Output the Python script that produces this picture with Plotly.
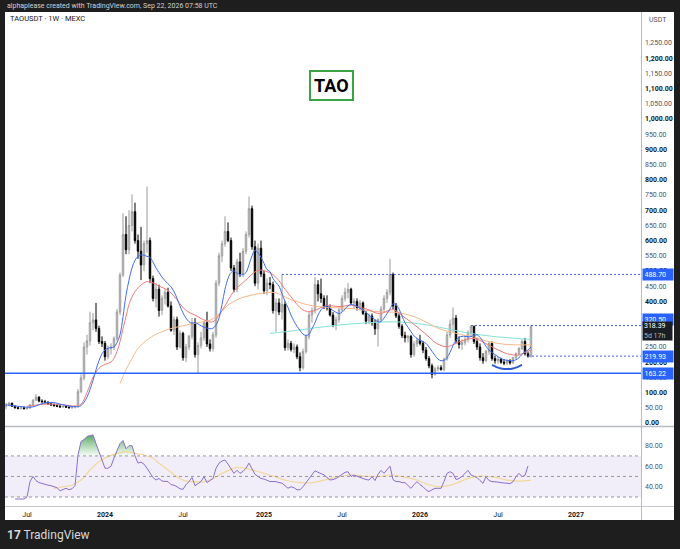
import pandas as pd
import numpy as np
import plotly.graph_objects as go

# ---------------- DATA ----------------
BASE = pd.Timestamp("2024-01-01")   # weekly bars, week index 0 = week of 2024-01-01
FIRST_WEEK = -33

opens = [55, 60, 65, 55, 50, 48, 50, 47, 49, 60,
         75, 85, 72, 70, 68, 63, 60, 57, 55, 53,
         55, 52, 50, 52, 54, 103, 148, 250, 270, 330,
         339, 311, 268, 262, 218, 245, 250, 278, 365, 487,
         620, 570, 650, 695, 600, 565, 520, 590, 600, 475,
         410, 440, 370, 410, 430, 385, 305, 340, 250, 295,
         215, 250, 285, 330, 225, 255, 280, 330, 260, 245,
         290, 460, 550, 590, 630, 600, 510, 440, 530, 490,
         565, 620, 705, 580, 460, 575, 490, 435, 460, 455,
         370, 395, 365, 390, 248, 262, 242, 250, 218, 182,
         235, 285, 355, 370, 455, 425, 410, 385, 378, 355,
         322, 340, 372, 410, 430, 440, 395, 400, 380, 395,
         360, 335, 352, 330, 310, 340, 375, 410, 430, 488,
         385, 352, 318, 288, 280, 285, 225, 260, 272, 262,
         240, 212, 188, 160, 178, 182, 176, 210, 290, 325,
         345, 270, 258, 265, 275, 298, 318, 268, 250, 215,
         205, 235, 262, 212, 205, 210, 200, 197, 205, 198,
         215, 228, 245, 268, 228, 219.93]
highs = [66, 70, 67, 58, 55, 53, 54, 52, 62, 78,
         95, 88, 78, 76, 72, 67, 64, 62, 60, 58,
         58, 56, 55, 56, 112, 160, 265, 290, 366, 362,
         395, 320, 285, 270, 255, 262, 285, 375, 495, 690,
         680, 700, 752, 725, 620, 645, 600, 778, 610, 485,
         460, 455, 420, 440, 445, 400, 350, 350, 305, 300,
         260, 290, 345, 345, 265, 300, 335, 366, 275, 300,
         470, 560, 600, 680, 660, 610, 520, 540, 560, 575,
         630, 745, 715, 600, 590, 600, 500, 475, 480, 465,
         410, 410, 489, 400, 275, 270, 262, 258, 232, 245,
         290, 365, 380, 480, 470, 475, 420, 420, 390, 365,
         350, 380, 420, 445, 460, 445, 410, 410, 405, 400,
         368, 360, 360, 340, 345, 385, 420, 440, 540, 495,
         395, 360, 325, 300, 290, 290, 270, 280, 290, 270,
         250, 220, 195, 185, 190, 190, 215, 300, 340, 380,
         355, 285, 275, 285, 305, 320.5, 320, 280, 262, 230,
         240, 270, 268, 222, 218, 215, 210, 210, 210, 218,
         232, 250, 275, 280, 235, 320.5]
lows = [45, 56, 53, 47, 45, 44, 45, 44, 47, 58,
        72, 68, 66, 64, 60, 56, 54, 52, 50, 49,
        50, 48, 47, 48, 52, 98, 140, 225, 255, 305,
        300, 260, 250, 205, 210, 225, 240, 270, 355, 480,
        555, 555, 630, 590, 540, 470, 500, 560, 460, 400,
        380, 350, 355, 390, 380, 300, 290, 240, 245, 205,
        200, 240, 275, 215, 163, 245, 270, 250, 235, 235,
        280, 450, 530, 580, 595, 500, 430, 430, 480, 480,
        555, 610, 570, 450, 440, 480, 425, 420, 440, 360,
        300, 355, 340, 238, 238, 235, 230, 210, 170, 175,
        228, 275, 330, 360, 400, 395, 375, 370, 350, 315,
        305, 330, 365, 400, 410, 390, 375, 370, 370, 355,
        325, 325, 320, 290, 252, 330, 365, 395, 420, 375,
        345, 310, 280, 265, 265, 215, 218, 250, 255, 230,
        205, 180, 147, 155, 170, 172, 170, 205, 280, 300,
        262, 245, 240, 255, 265, 285, 260, 240, 205, 195,
        200, 225, 205, 195, 195, 195, 190, 190, 192, 195,
        210, 222, 240, 222, 215, 215]
closes = [60, 65, 55, 50, 48, 50, 47, 49, 60, 75,
          85, 72, 70, 68, 63, 60, 57, 55, 53, 55,
          52, 50, 52, 54, 103, 148, 250, 270, 330, 339,
          311, 268, 262, 218, 245, 250, 278, 365, 487, 620,
          570, 650, 695, 600, 565, 520, 590, 600, 475, 410,
          440, 370, 410, 430, 385, 305, 340, 250, 295, 215,
          250, 285, 330, 225, 255, 280, 330, 260, 245, 290,
          460, 550, 590, 630, 600, 510, 440, 530, 490, 565,
          620, 705, 580, 460, 575, 490, 435, 460, 455, 370,
          395, 365, 390, 248, 262, 242, 250, 218, 182, 235,
          285, 355, 370, 455, 425, 410, 385, 378, 355, 322,
          340, 372, 410, 430, 440, 395, 400, 380, 395, 360,
          335, 352, 330, 310, 340, 375, 410, 430, 488, 385,
          352, 318, 288, 280, 285, 225, 260, 272, 262, 240,
          212, 188, 160, 178, 182, 176, 210, 290, 325, 345,
          270, 258, 265, 275, 298, 318, 268, 250, 215, 205,
          235, 262, 212, 205, 210, 200, 197, 205, 198, 215,
          228, 245, 268, 228, 219.93, 318.39]

# Moving averages (week index, price)
ma_fast_weeks = list(range(-33, 143, 1))
ma_fast_values = [60, 58, 57, 56, 55, 54, 53, 52, 52, 53,
                  56, 60, 64, 66, 67, 68, 67, 65, 62, 60,
                  58, 56, 54, 54, 53, 57, 68, 85, 110, 140,
                  175, 205, 228, 240, 246, 248, 250, 265, 290, 350,
                  420, 470, 510, 535, 548, 553, 552, 548, 545, 530,
                  510, 495, 480, 468, 458, 448, 432, 410, 385, 362,
                  345, 333, 328, 330, 326, 320, 315, 312, 310, 312,
                  322, 345, 390, 440, 475, 495, 500, 492, 488, 488,
                  495, 520, 550, 568, 560, 545, 525, 505, 498, 475,
                  462, 450, 425, 400, 380, 355, 335, 318, 305, 292,
                  288, 292, 310, 330, 355, 372, 382, 385, 378, 370,
                  364, 360, 364, 375, 385, 390, 388, 383, 377, 372,
                  364, 355, 348, 340, 333, 334, 345, 360, 375, 392,
                  390, 375, 352, 330, 315, 300, 287, 278, 272, 268,
                  262, 250, 236, 222, 210, 205, 206, 215, 232, 255,
                  272, 282, 285, 285, 284, 284, 288, 290, 282, 268,
                  252, 240, 232, 225, 218, 212, 208, 206, 205, 205,
                  208, 215, 225, 235, 240, 250]
ma_mid_weeks = [-26, -20, -14, -10, -8, -6, -4, -2, 0, 2, 3, 4, 5, 6, 7, 8, 9, 10, 11, 12,
                14, 16, 18, 20, 22, 24, 26, 28, 30, 32, 34, 36, 38, 40, 42, 44, 46, 48, 50,
                52, 54, 56, 58, 60, 62, 64, 66, 68, 70, 72, 74, 76, 78, 80, 82, 84, 86, 88,
                90, 92, 94, 96, 98, 100, 102, 104, 106, 108, 110, 112, 114, 116, 118, 120,
                122, 124, 126, 128, 130, 132, 134, 136, 138, 140, 142]
ma_mid_values = [55, 62, 60, 56, 62, 100, 150, 180, 193, 200, 213, 235, 268, 310, 350, 390, 415,
                 432, 445, 454, 465, 461, 450, 442, 428, 405, 380, 364, 355, 344, 335, 333,
                 355, 385, 420, 445, 462, 480, 497, 503, 498, 488, 468, 440, 415, 390, 372,
                 366, 370, 380, 386, 385, 383, 385, 388, 383, 378, 372, 363, 360, 368, 373,
                 362, 346, 332, 316, 300, 283, 265, 255, 251, 257, 267, 273, 278, 276, 266,
                 256, 245, 236, 228, 224, 224, 232, 240]
ma_slow_weeks = [5, 7, 9, 11, 13, 15, 17, 19, 21, 23, 25, 27, 29, 31, 33, 35, 37, 39, 41, 43,
                 45, 47, 49, 51, 53, 55, 57, 59, 61, 63, 65, 67, 69, 71, 73, 75, 77, 79, 81,
                 83, 85, 87, 89, 91, 93, 95, 97, 99, 101, 103, 105, 107, 109, 111, 113, 115,
                 117, 119, 121, 123, 125, 127, 129, 131, 133, 135, 137, 139, 141, 142]
ma_slow_values = [130, 175, 212, 245, 265, 280, 292, 300, 308, 313, 318, 322, 326, 330, 334,
                  338, 350, 368, 388, 400, 410, 416, 421, 425, 428, 430, 428, 420, 410, 402,
                  396, 390, 386, 383, 381, 380, 379, 378, 377, 376, 373, 371, 368, 366, 365,
                  365, 364, 361, 356, 350, 342, 332, 322, 312, 305, 300, 295, 290, 287, 283,
                  276, 270, 265, 262, 259, 258, 257, 257, 257, 258]
ma_long_weeks = [55, 60, 65, 70, 75, 80, 85, 90, 95, 100, 105, 110, 115, 120, 125, 130, 135, 140, 142]
ma_long_values = [295, 300, 306, 313, 319, 324, 328, 331, 333, 331, 326, 318, 308, 298, 290,
                  284, 280, 276, 275]

rsi_weeks = list(range(-30, 143, 1))
rsi_values = [28, 28, 28, 28, 30, 45, 50, 46, 44, 43,
              42, 41.5, 41, 40, 39, 36, 37, 38.5, 37, 38,
              41, 71, 84, 86, 89, 90, 90.5, 82, 74, 66,
              58, 58, 60, 68, 76, 82, 85, 77, 80, 80,
              70, 63, 64, 62, 58, 54, 49, 46.5, 48, 45.5,
              45, 45, 42, 41.5, 40, 38, 37.4, 42, 45, 49,
              41, 43, 45, 49.8, 44, 46, 48, 58, 63, 65,
              66, 62, 57, 53, 56, 53, 55, 58, 63, 57,
              52, 50, 48, 47.5, 46, 45, 45, 45, 44, 43.5,
              41, 38.5, 40, 39, 37, 37, 40, 44, 48, 51,
              55.6, 54, 53, 51.5, 49, 46.5, 47, 48, 50, 52.4,
              54, 54.6, 50, 51.4, 50, 49, 48, 47, 46.5, 49.8,
              46, 52, 56, 53, 56, 60, 47, 45, 45, 44,
              44, 41, 38.4, 42, 45, 42, 40, 37, 35.2, 37,
              38.4, 38.5, 38.4, 45, 53, 54.6, 53, 47, 48, 50,
              53, 56, 51.4, 50, 49, 46, 43.3, 49.8, 46, 45,
              45, 44.5, 44, 43.5, 43.3, 43, 44.9, 49.8, 53, 49.8,
              51, 60.2]
rsi_ma_weeks = [-17, -14, -11, -8, -5, -2, 1, 4, 7, 10, 13, 16, 18, 21, 24, 27, 30, 33, 36, 39,
                42, 44, 47, 50, 53, 56, 60, 65, 69, 73, 78, 82, 86, 91, 95, 99, 104, 108,
                112, 117, 121, 125, 130, 134, 138, 142]
rsi_ma_values = [38.4, 40, 41.7, 46.5, 56.3, 64.4, 69.3, 72.5, 74.2, 72.5, 70.9, 67.7, 62.8,
                 56.3, 49.8, 45.5, 44.9, 44.9, 48.1, 53, 56.9, 58.9, 57.9, 55.6, 53, 50.4,
                 46.5, 43.9, 43.9, 46.5, 49.8, 51.4, 50.4, 49.8, 51.4, 49.8, 46.5, 41.7, 40,
                 43.3, 48.1, 50.4, 49.1, 46.5, 45.5, 46.5]

# drawn levels / marks
resistance_level, resistance_from = 488.70, 59
high_level, high_from = 320.50, 122
open_level, open_from = 219.93, 141
support_level = 163.22
last_price, countdown = 318.39, "5d 17h"
arc_weeks = [129, 130.5, 132, 134, 136, 137.5, 139]
arc_prices = [191, 184, 179.5, 177.5, 179.5, 184, 191]

date_ticks_weeks = [-26, 0, 26, 53, 79, 105, 131, 157]
date_ticks_text = ["Jul", "<b>2024</b>", "Jul", "<b>2025</b>", "Jul", "<b>2026</b>", "Jul", "<b>2027</b>"]
price_ticks = [0, 50, 100, 150, 200, 250, 400, 450, 500, 550, 600, 650, 700, 750, 800, 850,
               900, 950, 1000, 1050, 1100, 1150, 1200, 1250]
rsi_ticks = [40, 60, 80]


def wk(w):
    return BASE + pd.Timedelta(days=7 * w)


dates = [wk(FIRST_WEEK + i) for i in range(len(closes))]
x_start, x_end = wk(-33.333), wk(178.667)

FONT = "Roboto, Inter, sans-serif"
TXT = "#131722"
GRAYTXT = "#50535e"
BLUE = "#2962ff"

fig = go.Figure()

# price pane moving averages
fig.add_trace(go.Scatter(x=[wk(w) for w in ma_long_weeks], y=ma_long_values, mode="lines",
                         line=dict(color="#84e1d8", width=1, shape="spline"), hoverinfo="skip"))
fig.add_trace(go.Scatter(x=[wk(w) for w in ma_slow_weeks], y=ma_slow_values, mode="lines",
                         line=dict(color="#f7b98a", width=1, shape="spline"), hoverinfo="skip"))
fig.add_trace(go.Scatter(x=[wk(w) for w in ma_mid_weeks], y=ma_mid_values, mode="lines",
                         line=dict(color="#ef7b7b", width=1, shape="spline"), hoverinfo="skip"))
fig.add_trace(go.Scatter(x=[wk(w) for w in ma_fast_weeks], y=ma_fast_values, mode="lines",
                         line=dict(color="#3f6df0", width=1, shape="spline"), hoverinfo="skip"))

fig.add_trace(go.Candlestick(
    x=dates, open=opens, high=highs, low=lows, close=closes,
    increasing=dict(line=dict(color="#9a9a9a", width=1), fillcolor="#e8e8e8"),
    decreasing=dict(line=dict(color="#000000", width=1), fillcolor="#000000"),
    whiskerwidth=0, hoverinfo="skip", xaxis="x", yaxis="y"))

# hand-drawn arc under the base
fig.add_trace(go.Scatter(x=[wk(w) for w in arc_weeks], y=arc_prices, mode="lines",
                         line=dict(color="#2f5bd3", width=2, shape="spline"), hoverinfo="skip"))

# RSI pane
rsi_dates = [wk(w) for w in rsi_weeks]
fig.add_trace(go.Scatter(x=[rsi_dates[0], rsi_dates[-1]], y=[70, 70], mode="lines",
                         line=dict(width=0, color="rgba(0,0,0,0)"), xaxis="x2", yaxis="y2",
                         hoverinfo="skip"))
fig.add_trace(go.Scatter(x=rsi_dates, y=np.maximum(np.array(rsi_values), 70), mode="lines",
                         line=dict(width=0, color="rgba(0,0,0,0)"), fill="tonexty",
                         fillgradient=dict(type="vertical", start=70, stop=92,
                                           colorscale=[[0, "rgba(76,175,80,0.05)"],
                                                       [1, "rgba(46,140,60,0.85)"]]),
                         xaxis="x2", yaxis="y2", hoverinfo="skip"))
fig.add_trace(go.Scatter(x=[wk(w) for w in rsi_ma_weeks], y=rsi_ma_values, mode="lines",
                         line=dict(color="#f3d79a", width=1.2, shape="spline"),
                         xaxis="x2", yaxis="y2", hoverinfo="skip"))
fig.add_trace(go.Scatter(x=rsi_dates, y=rsi_values, mode="lines",
                         line=dict(color="#8a6fd0", width=1),
                         xaxis="x2", yaxis="y2", hoverinfo="skip"))

W, H = 680, 549
L, R, T, B = 5, 39, 12, 43
pw, ph = W - L - R, H - T - B


def px_x(p):
    return (p - L) / pw


def px_y(p):
    return (H - B - p) / ph


main_bottom = px_y(426)
rsi_top = px_y(427)

shapes = [
    # white chart panel
    dict(type="rect", xref="paper", yref="paper", x0=0, x1=px_x(674), y0=px_y(520), y1=1,
         fillcolor="white", line=dict(width=0), layer="below"),
    # pane separators
    dict(type="line", xref="paper", yref="paper", x0=0, x1=px_x(674), y0=px_y(426.5), y1=px_y(426.5),
         line=dict(color="#b8bbc4", width=1.5)),
    dict(type="line", xref="paper", yref="paper", x0=0, x1=px_x(674), y0=px_y(506.5), y1=px_y(506.5),
         line=dict(color="#c4c7cf", width=1)),
    dict(type="line", xref="paper", yref="paper", x0=px_x(641.5), x1=px_x(641.5), y0=px_y(520), y1=1,
         line=dict(color="#b8bbc4", width=1)),
    # RSI band and levels
    dict(type="rect", xref="paper", yref="y2", x0=0, x1=1, y0=30, y1=70,
         fillcolor="rgba(126,87,194,0.10)", line=dict(width=0), layer="below"),
]
for lv in (70, 50, 30):
    shapes.append(dict(type="line", xref="paper", yref="y2", x0=0, x1=1, y0=lv, y1=lv,
                       line=dict(color="#9598a1", width=1, dash="3px,3px")))
# price levels
shapes.append(dict(type="line", xref="paper", yref="y", x0=0, x1=1, y0=support_level, y1=support_level,
                   line=dict(color=BLUE, width=1.5)))
for lv, w0 in ((resistance_level, resistance_from), (high_level, high_from), (open_level, open_from)):
    shapes.append(dict(type="line", xref="x", yref="y", x0=wk(w0), x1=x_end, y0=lv, y1=lv,
                       line=dict(color="#4a62d8", width=1, dash="2px,2px")))

annotations = [
    dict(text="alphaplease created with TradingView.com, Sep 22, 2026 07:58 UTC", xref="paper",
         yref="paper", x=px_x(5), y=px_y(6), xanchor="left", yanchor="middle", showarrow=False,
         font=dict(family=FONT, size=7, color="#cfd2d8")),
    dict(text="TAOUSDT · 1W · MEXC", xref="paper", yref="paper", x=px_x(8), y=px_y(19),
         xanchor="left", yanchor="middle", showarrow=False, font=dict(family=FONT, size=7.5, color=TXT)),
    dict(text="USDT", xref="paper", yref="paper", x=px_x(647), y=px_y(20), xanchor="left",
         yanchor="middle", showarrow=False, font=dict(family=FONT, size=7, color=GRAYTXT)),
    dict(text="<b>TAO</b>", xref="paper", yref="paper", x=px_x(331), y=px_y(85), xanchor="center",
         yanchor="middle", showarrow=False, font=dict(family=FONT, size=18, color="#000000"),
         bgcolor="white", bordercolor="#3aa346", borderwidth=2, borderpad=3),
    dict(text="<b>17</b> TradingView", xref="paper", yref="paper", x=px_x(5), y=px_y(535),
         xanchor="left", yanchor="middle", showarrow=False,
         font=dict(family=FONT, size=12, color="#d9d9d9")),
]
for lv, shift in ((resistance_level, 0), (high_level, 6), (open_level, 0), (support_level, 0)):
    annotations.append(dict(text=f"{lv:.2f}", xref="paper", yref="y", x=px_x(641.5), y=lv,
                            yshift=shift, xanchor="left", yanchor="middle", showarrow=False,
                            width=27, height=8, align="left", bgcolor=BLUE, borderpad=1.5,
                            font=dict(family=FONT, size=7, color="white")))
annotations.append(dict(text=f"{last_price:.2f}<br><span style='color:#b2b5be'>{countdown}</span>",
                        xref="paper", yref="y", x=px_x(641.5), y=last_price, yshift=-5,
                        xanchor="left", yanchor="middle", showarrow=False, width=27, height=16,
                        align="left", bgcolor="#1b1d24", borderpad=1,
                        font=dict(family=FONT, size=7, color="white")))

price_ticktext = [("<b>%s</b>" % f"{v:,.2f}") if v % 100 == 0 else
                  ("<span style='color:%s'>%s</span>" % (GRAYTXT, f"{v:,.2f}")) for v in price_ticks]

fig.update_layout(
    width=W, height=H, margin=dict(l=L, r=R, t=T, b=B),
    paper_bgcolor="#1e1e1e", plot_bgcolor="white", showlegend=False,
    shapes=shapes, annotations=annotations, boxgap=0.3,
    xaxis=dict(type="date", range=[x_start, x_end], domain=[0, 1], anchor="y",
               showticklabels=False, showgrid=False, zeroline=False, showline=False,
               rangeslider=dict(visible=False)),
    yaxis=dict(domain=[main_bottom, 1], range=[-9.9, 1352], side="right", anchor="x",
               tickmode="array", tickvals=price_ticks, ticktext=price_ticktext,
               showgrid=False, zeroline=False, showline=False, ticks="", ticklabelstandoff=3,
               tickfont=dict(family=FONT, size=7, color=TXT)),
    xaxis2=dict(type="date", range=[x_start, x_end], domain=[0, 1], anchor="y2", matches="x",
                tickmode="array", tickvals=[wk(w) for w in date_ticks_weeks], ticktext=date_ticks_text,
                showgrid=False, zeroline=False, showline=False, ticks="", ticklabelstandoff=3,
                tickfont=dict(family=FONT, size=7, color=TXT)),
    yaxis2=dict(domain=[0, rsi_top], range=[21.2, 98.2], side="right", anchor="x2",
                tickmode="array", tickvals=rsi_ticks, ticktext=[f"{v:.2f}" for v in rsi_ticks],
                showgrid=False, zeroline=False, showline=False, ticks="", ticklabelstandoff=3,
                tickfont=dict(family=FONT, size=7, color=GRAYTXT)),
)

fig.write_html("out.html")
